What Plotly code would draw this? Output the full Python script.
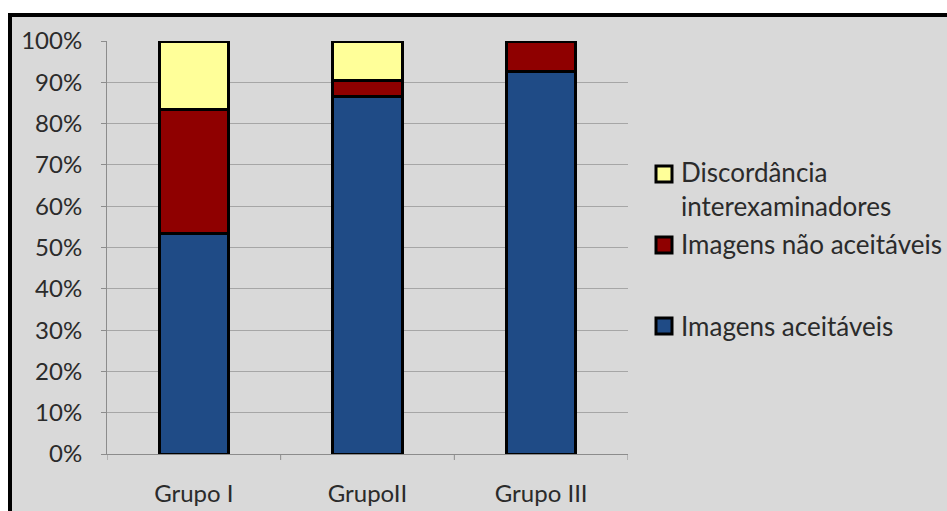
import plotly.graph_objects as go

grupos = ["Grupo I", "GrupoII", "Grupo III"]
aceitaveis = [0.535, 0.865, 0.925]
nao_aceitaveis = [0.30, 0.04, 0.075]
discordancia = [0.165, 0.095, 0.0]

series_names = ["Imagens aceitáveis", "Imagens não aceitáveis",
                "Discordância<br>interexaminadores"]
series_values = [aceitaveis, nao_aceitaveis, discordancia]
series_colors = ["#1f4b86", "#8f0000", "#ffff99"]

fig = go.Figure()
for name, vals, color in zip(series_names, series_values, series_colors):
    fig.add_trace(go.Bar(
        x=grupos, y=vals, name=name,
        marker=dict(color=color, line=dict(color="#000000", width=3)),
        width=0.4,
    ))

W, H = 947, 511
L, R, T, B = 107, 319, 41, 57
pw, ph = W - L - R, H - T - B

def px(x):
    return (x - L) / pw

def py(y):
    return 1 - (y - T) / ph

bg = "#d9d9d9"
txt = "#2b2b2b"

shapes = [
    # white margin outside the frame
    dict(type="rect", xref="paper", yref="paper", x0=px(-5), x1=px(W + 5),
         y0=py(13), y1=py(-5), fillcolor="white", line=dict(width=0), layer="below"),
    dict(type="rect", xref="paper", yref="paper", x0=px(-5), x1=px(8),
         y0=py(H + 5), y1=py(-5), fillcolor="white", line=dict(width=0), layer="below"),
    # frame
    dict(type="line", xref="paper", yref="paper", x0=px(10), x1=px(10),
         y0=py(H + 5), y1=py(15), line=dict(color="black", width=4)),
    dict(type="line", xref="paper", yref="paper", x0=px(8), x1=px(W + 5),
         y0=py(15), y1=py(15), line=dict(color="black", width=4)),
    # category boundary ticks
    *[dict(type="line", xref="x", yref="paper", x0=k + 0.5, x1=k + 0.5,
           y0=0, y1=py(460), line=dict(color="#8c8c8c", width=1)) for k in range(-1, 3)],
]

# legend drawn as swatches + labels (top entry first)
legend_rows = [(2, 174, 189), (1, 245, 244), (0, 326, 326)]
annotations = []
for idx, sy, ty in legend_rows:
    shapes.append(dict(type="rect", xref="paper", yref="paper",
                       x0=px(656), x1=px(672), y0=py(sy + 8), y1=py(sy - 8),
                       fillcolor=series_colors[idx], line=dict(color="black", width=3)))
    annotations.append(dict(xref="paper", yref="paper", x=px(679), y=py(ty),
                            xanchor="left", yanchor="middle", align="left",
                            text=series_names[idx], showarrow=False,
                            font=dict(size=26, color=txt, family="Lato")))

fig.update_layout(
    width=W, height=H,
    margin=dict(l=L, r=R, t=T, b=B),
    barmode="stack",
    paper_bgcolor=bg, plot_bgcolor=bg,
    font=dict(family="Lato", size=24, color=txt),
    showlegend=False,
    xaxis=dict(
        showline=True, linecolor="#8c8c8c", linewidth=1,
        ticks="", tickfont=dict(size=24), ticklabelstandoff=18,
        range=[-0.5, 2.5], automargin=False,
    ),
    yaxis=dict(
        range=[0, 1], tickvals=[i / 10 for i in range(11)],
        tickformat=".0%", showgrid=True, gridcolor="#a6a6a6", gridwidth=1,
        showline=True, linecolor="#8c8c8c", linewidth=1,
        ticks="outside", ticklen=5, tickcolor="#8c8c8c",
        tickfont=dict(size=24), zeroline=False, ticklabelstandoff=14,
        automargin=False,
    ),
    shapes=shapes,
    annotations=annotations,
)

fig.write_html("out.html")
